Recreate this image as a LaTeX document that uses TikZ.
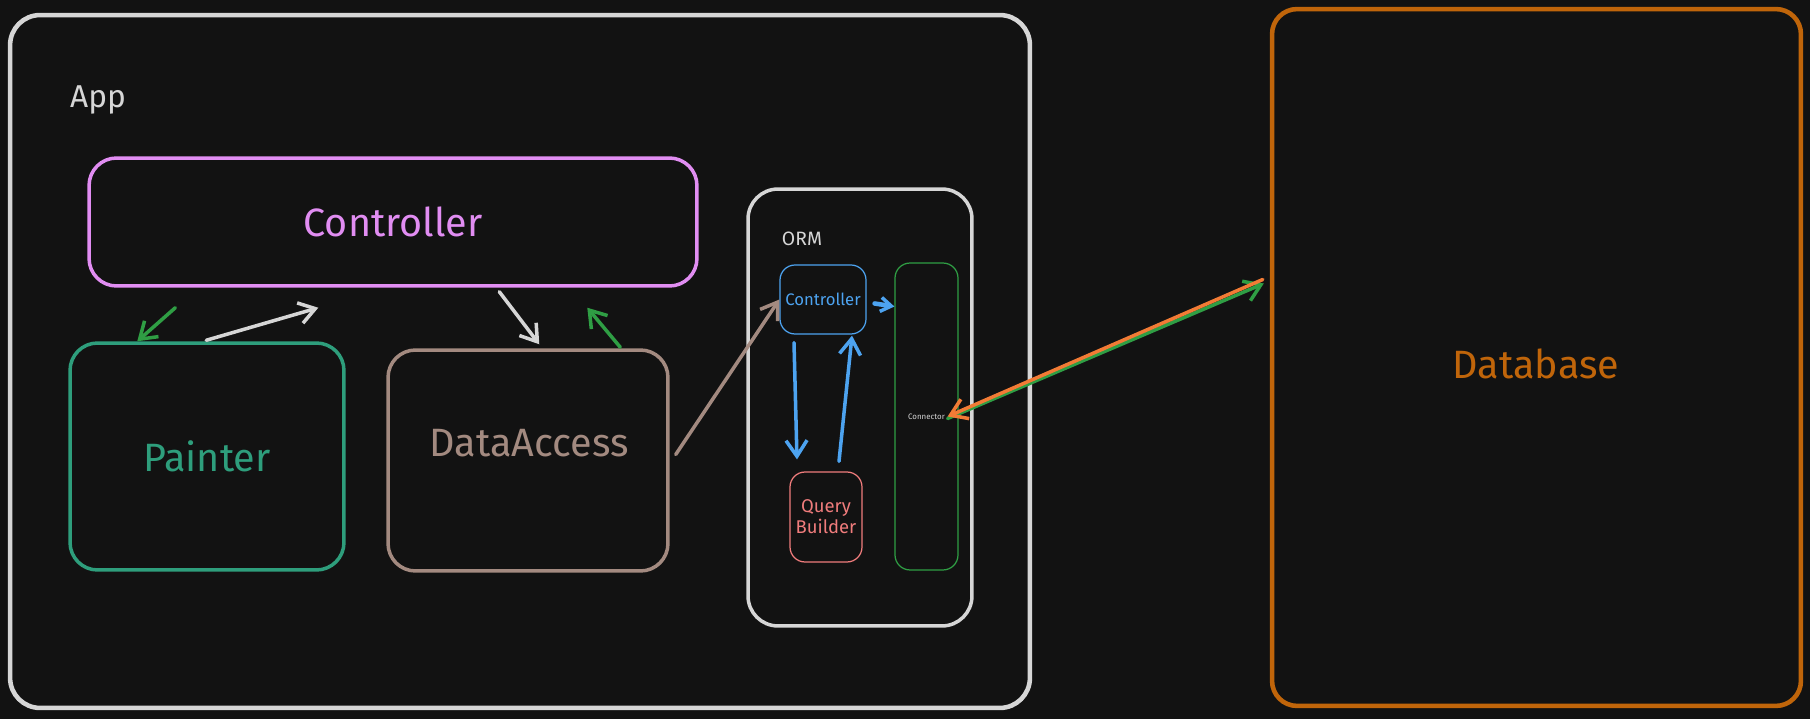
\documentclass[tikz,border=0pt]{standalone}
\usepackage{fontspec}
\setmainfont{Fira Sans}
\usetikzlibrary{arrows.meta,calc}

\definecolor{bgdark}{HTML}{121212}
\definecolor{appgray}{HTML}{D6D6D6}
\definecolor{ctrlpink}{HTML}{E18DF2}
\definecolor{paintgreen}{HTML}{2E9E7C}
\definecolor{databrown}{HTML}{A38A80}
\definecolor{ormblue}{HTML}{4DA3F0}
\definecolor{qbred}{HTML}{F07C7C}
\definecolor{conngreen}{HTML}{2F9E44}
\definecolor{dborange}{HTML}{C0650A}
\definecolor{linkorange}{HTML}{F27B35}

\begin{document}
\begin{tikzpicture}[x=0.02cm, y=-0.02cm, thick,
  box/.style={draw, rounded corners=0.55cm, line width=2pt, inner sep=0pt},
  smallbox/.style={draw, rounded corners=0.3cm, line width=0.7pt, inner sep=0pt, align=center},
  bigtext/.style={font=\fontsize{22.5}{27}\selectfont},
  link/.style={line width=2pt, line cap=round, -{Straight Barb[length=9pt, width=12pt, line width=2pt]}},
  minilink/.style={line width=2pt, line cap=round, -{Straight Barb[length=6pt, width=8pt, line width=2pt]}}]

  % -- Canvas --
  \fill[bgdark] (0,0) rectangle (1810,719);
  \useasboundingbox (0,0) rectangle (1810,719);

  % -- App frame --
  \node[box, draw=appgray, line width=2.6pt, rounded corners=0.6cm,
        minimum width=20.4cm, minimum height=13.86cm] (app) at (520,361.5) {};
  \node[text=appgray, font=\fontsize{18}{21}\selectfont] (applabel) at (98,100) {App};

  % -- Controller --
  \node[box, draw=ctrlpink, text=ctrlpink, bigtext,
        minimum width=12.16cm, minimum height=2.56cm] (ctrl) at (393,222) {Controller};

  % -- Painter --
  \node[box, draw=paintgreen, text=paintgreen, bigtext,
        minimum width=5.48cm, minimum height=4.54cm] (painter) at (207,456.5) {Painter};

  % -- DataAccess --
  \node[box, draw=databrown, minimum width=5.6cm, minimum height=4.42cm] (data) at (528,460.5) {};
  \node[text=databrown, bigtext] (datalabel) at (529,443) {DataAccess};

  % -- ORM --
  \node[box, draw=appgray, rounded corners=0.6cm,
        minimum width=4.48cm, minimum height=8.74cm] (orm) at (860,407.5) {};
  \node[text=appgray, font=\fontsize{11}{13}\selectfont] (ormlabel) at (802,239) {ORM};

  \node[smallbox, draw=ormblue, text=ormblue, font=\fontsize{9.5}{11}\selectfont,
        minimum width=1.72cm, minimum height=1.38cm] (ormctrl) at (823,299.5) {Controller};
  \node[smallbox, draw=qbred, text=qbred, font=\fontsize{10.5}{12}\selectfont,
        minimum width=1.44cm, minimum height=1.8cm] (qb) at (826,517) {Query\\Builder};
  \node[smallbox, draw=conngreen, text=appgray, font=\fontsize{4.5}{5}\selectfont,
        minimum width=1.26cm, minimum height=6.14cm] (conn) at (926.5,416.5) {Connector};

  % -- Database --
  \node[box, draw=dborange, line width=2.6pt, rounded corners=0.5cm,
        minimum width=10.58cm, minimum height=13.94cm] (db) at (1536.5,357.5) {};
  \node[text=dborange, bigtext] (dblabel) at (1536,364) {Database};

  % -- App links --
  \draw[link, conngreen] ($(ctrl.south west)+(88,20)$) -- ($(painter.north west)+(69,0)$);
  \draw[link, appgray] ($(painter.north west)+(138,-1)$) -- ($(ctrl.south west)+(231,20)$);
  \draw[link, appgray] ($(ctrl.south west)+(412,4)$) -- ($(data.north west)+(153,-4)$);
  \draw[link, conngreen] ($(data.north west)+(234,-1)$) -- ($(ctrl.south west)+(500,20)$);
  \draw[link, databrown] ($(data.east)+(6,-6)$) -- (ormctrl.west);

  % -- ORM links --
  \draw[minilink, ormblue, line width=2.6pt] ($(ormctrl.east)+(8,4)$) -- ($(conn.west)+(0,-110)$);
  \draw[link, ormblue] ($(ormctrl.south)+(-29,8)$) -- ($(qb.north)+(-29,-12)$);
  \draw[link, ormblue] ($(qb.north)+(13,-10)$) -- ($(ormctrl.south)+(29,1)$);

  % -- Database links --
  \draw[link, conngreen] ($(conn.east)+(-11,2)$) -- ($(db.west)+(-6,-74)$);
  \draw[link, linkorange] ($(db.west)+(-7,-78)$) -- ($(conn.east)+(-11,0)$);

\end{tikzpicture}
\end{document}
